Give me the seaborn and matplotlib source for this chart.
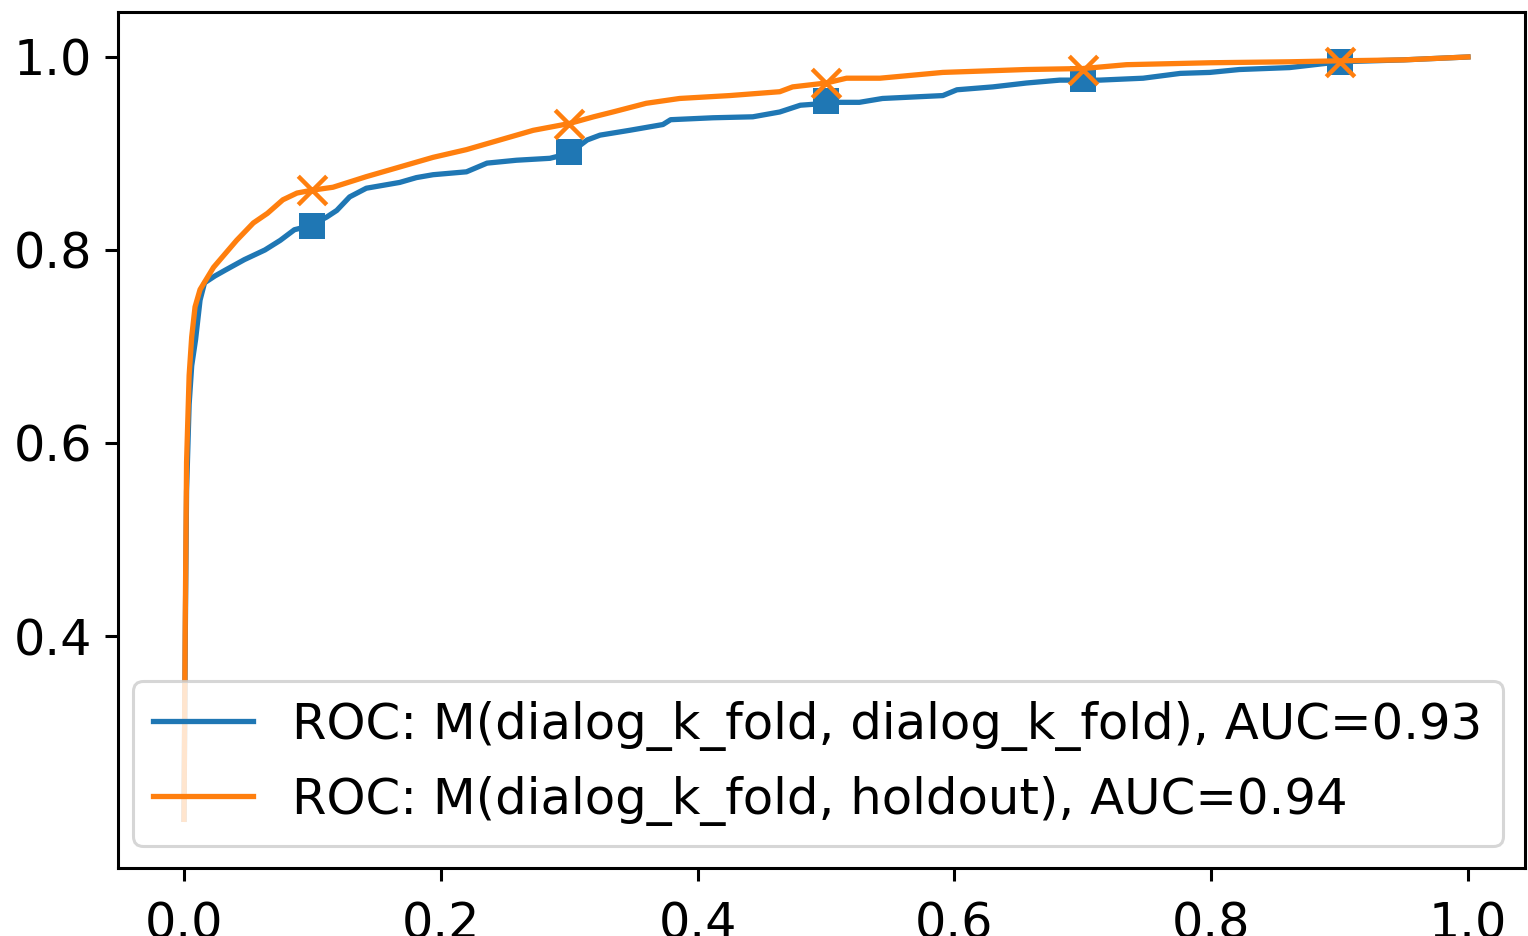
import matplotlib
matplotlib.use("Agg")
import matplotlib.pyplot as plt
import seaborn as sns
import pandas as pd

# ---- data ----
blue_fpr = [0.0, 0.001, 0.002, 0.004, 0.006, 0.009, 0.0125, 0.016, 0.024, 0.032, 0.047,
            0.063, 0.075, 0.086, 0.098, 0.111, 0.119, 0.129, 0.142, 0.155, 0.168, 0.181,
            0.194, 0.22, 0.236, 0.259, 0.285, 0.3, 0.314, 0.324, 0.347, 0.373, 0.379,
            0.412, 0.443, 0.464, 0.48, 0.511, 0.526, 0.544, 0.591, 0.602, 0.63, 0.656,
            0.682, 0.7, 0.713, 0.747, 0.776, 0.799, 0.822, 0.861, 0.9, 0.95, 1.0]
blue_tpr = [0.21, 0.40, 0.55, 0.64, 0.68, 0.707, 0.748, 0.766, 0.773, 0.779, 0.79,
            0.80, 0.81, 0.821, 0.825, 0.834, 0.841, 0.855, 0.864, 0.867, 0.87, 0.875,
            0.878, 0.881, 0.89, 0.893, 0.895, 0.9, 0.914, 0.919, 0.924, 0.93, 0.935,
            0.937, 0.938, 0.943, 0.95, 0.953, 0.953, 0.957, 0.96, 0.966, 0.969, 0.973,
            0.976, 0.976, 0.976, 0.978, 0.983, 0.984, 0.987, 0.989, 0.995, 0.997, 1.0]

orange_fpr = [0.0, 0.001, 0.002, 0.004, 0.006, 0.0086, 0.0125, 0.023, 0.041, 0.054, 0.065,
              0.077, 0.088, 0.1, 0.116, 0.142, 0.168, 0.194, 0.22, 0.246, 0.272, 0.3,
              0.319, 0.334, 0.36, 0.386, 0.425, 0.464, 0.474, 0.5, 0.516, 0.542, 0.591,
              0.656, 0.7, 0.734, 0.799, 0.861, 0.9, 0.95, 1.0]
orange_tpr = [0.21, 0.42, 0.58, 0.67, 0.71, 0.741, 0.759, 0.782, 0.81, 0.828, 0.838,
              0.852, 0.859, 0.862, 0.865, 0.876, 0.886, 0.896, 0.904, 0.914, 0.924, 0.931,
              0.938, 0.943, 0.952, 0.957, 0.96, 0.964, 0.969, 0.973, 0.978, 0.978, 0.984,
              0.987, 0.988, 0.992, 0.994, 0.995, 0.996, 0.997, 1.0]

marker_fpr = [0.1, 0.3, 0.5, 0.7, 0.9]
blue_marker_tpr = [0.825, 0.902, 0.954, 0.977, 0.995]
orange_marker_tpr = [0.862, 0.931, 0.973, 0.987, 0.995]

labels = ["ROC: M(dialog_k_fold, dialog_k_fold), AUC=0.93",
          "ROC: M(dialog_k_fold, holdout), AUC=0.94"]
colors = ["#1f77b4", "#ff7f0e"]

xticks = [0.0, 0.2, 0.4, 0.6, 0.8, 1.0]
yticks = [0.4, 0.6, 0.8, 1.0]

# ---- figure ----
plt.rcParams["font.family"] = ["DejaVu Sans"]
fig = plt.figure(figsize=(15.28, 9.36), dpi=100)
ax = fig.add_axes([118 / 1528, 68 / 936, (1525 - 118) / 1528, (868 - 12) / 936])

blue_df = pd.DataFrame({"fpr": blue_fpr, "tpr": blue_tpr})
orange_df = pd.DataFrame({"fpr": orange_fpr, "tpr": orange_tpr})
bm_df = pd.DataFrame({"fpr": marker_fpr, "tpr": blue_marker_tpr})
om_df = pd.DataFrame({"fpr": marker_fpr, "tpr": orange_marker_tpr})

lw = 3.8
sns.lineplot(data=blue_df, x="fpr", y="tpr", ax=ax, color=colors[0], lw=lw,
             estimator=None, sort=False, zorder=2.0)
sns.scatterplot(data=bm_df, x="fpr", y="tpr", ax=ax, color=colors[0], marker="s",
                s=360, linewidth=0, zorder=2.1)
sns.lineplot(data=orange_df, x="fpr", y="tpr", ax=ax, color=colors[1], lw=lw,
             estimator=None, sort=False, zorder=2.2)
sns.scatterplot(data=om_df, x="fpr", y="tpr", ax=ax, color=colors[1], marker="x",
                s=420, linewidth=3.2, zorder=2.3)

ax.set_xlim(-0.0514, 1.0444)
ax.set_ylim(0.1596, 1.0466)
ax.set_xticks(xticks)
ax.set_yticks(yticks)
ax.set_xticklabels([f"{t:.1f}" for t in xticks])
ax.set_yticklabels([f"{t:.1f}" for t in yticks])
ax.set_xlabel("")
ax.set_ylabel("")

for sp in ax.spines.values():
    sp.set_linewidth(2.2)
    sp.set_color("black")
ax.tick_params(axis="both", labelsize=35.5, length=9.5, width=2.2, color="black")
ax.tick_params(axis="x", pad=14)
ax.tick_params(axis="y", pad=9)

lines = ax.get_lines()
handles = [lines[0], lines[1]]
leg = ax.legend(handles, labels, loc="lower right", fontsize=35.8, frameon=True,
                fancybox=True, framealpha=0.8, edgecolor="0.8",
                borderaxespad=0.45, handlelength=2.0)
leg.get_frame().set_linewidth(2.2)

fig.savefig("out.png", dpi=100, facecolor="white")
